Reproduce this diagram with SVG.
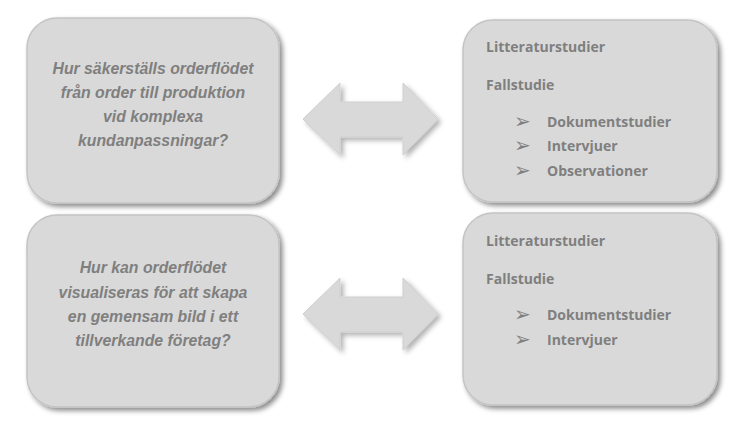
<svg xmlns="http://www.w3.org/2000/svg" width="748" height="441" viewBox="0 0 748 441">
<defs>
<filter id="sh" x="-10%" y="-10%" width="125%" height="125%">
<feDropShadow dx="3" dy="3" stdDeviation="2.5" flood-color="#000" flood-opacity="0.45"/>
</filter>
<filter id="sha" x="-10%" y="-20%" width="125%" height="145%">
<feDropShadow dx="3" dy="3" stdDeviation="2.5" flood-color="#000" flood-opacity="0.3"/>
</filter>
</defs>
<style>
.box{fill:#d9d9d9;stroke:#c4c4c4;stroke-width:1.5;filter:url(#sh)}
.arr{fill:#d9d9d9;stroke:#cfcfcf;stroke-width:1;filter:url(#sha)}
.q{font-family:"Liberation Sans",Arial,sans-serif;font-weight:bold;font-style:italic;font-size:15.8px;fill:#7f7f7f;text-anchor:middle}
.m{font-family:"Open Sans","Liberation Sans",sans-serif;font-weight:bold;font-size:14px;fill:#7f7f7f}
.b{font-family:"DejaVu Sans",sans-serif;font-size:20px;fill:#7f7f7f}
</style>
<rect width="748" height="441" fill="#ffffff"/>
<g id="q1">
<rect class="box" x="27" y="18" width="252" height="185" rx="30"/>
<text class="q" x="153" y="74">Hur säkerställs orderflödet</text>
<text class="q" x="153" y="98">från order till produktion</text>
<text class="q" x="153" y="122">vid komplexa</text>
<text class="q" x="153" y="146">kundanpassningar?</text>
</g>
<g id="m1">
<rect class="box" x="463" y="20" width="254" height="182" rx="30"/>
<text class="m" x="486" y="52">Litteraturstudier</text>
<text class="m" x="486" y="90">Fallstudie</text>
<text class="b" x="514" y="128">➢</text>
<text class="m" x="547" y="127">Dokumentstudier</text>
<text class="b" x="514" y="152">➢</text>
<text class="m" x="547" y="151">Intervjuer</text>
<text class="b" x="514" y="177">➢</text>
<text class="m" x="547" y="176">Observationer</text>
</g>
<g id="q2">
<rect class="box" x="27" y="215" width="252" height="192" rx="30"/>
<text class="q" x="153" y="273">Hur kan orderflödet</text>
<text class="q" x="153" y="298">visualiseras för att skapa</text>
<text class="q" x="153" y="322">en gemensam bild i ett</text>
<text class="q" x="153" y="346">tillverkande företag?</text>
</g>
<g id="m2">
<rect class="box" x="463" y="213" width="254" height="192" rx="30"/>
<text class="m" x="486" y="246">Litteraturstudier</text>
<text class="m" x="486" y="284">Fallstudie</text>
<text class="b" x="514" y="321">➢</text>
<text class="m" x="547" y="320">Dokumentstudier</text>
<text class="b" x="514" y="346">➢</text>
<text class="m" x="547" y="345">Intervjuer</text>
</g>
<g id="connectors">
<path class="arr" d="M303 119 L340 83 L340 102 L403 102 L403 83 L438 119 L403 155 L403 137 L340 137 L340 155 Z"/>
<path class="arr" d="M303 314 L340 278 L340 297 L403 297 L403 278 L438 314 L403 350 L403 332 L340 332 L340 350 Z"/>
</g>
</svg>
